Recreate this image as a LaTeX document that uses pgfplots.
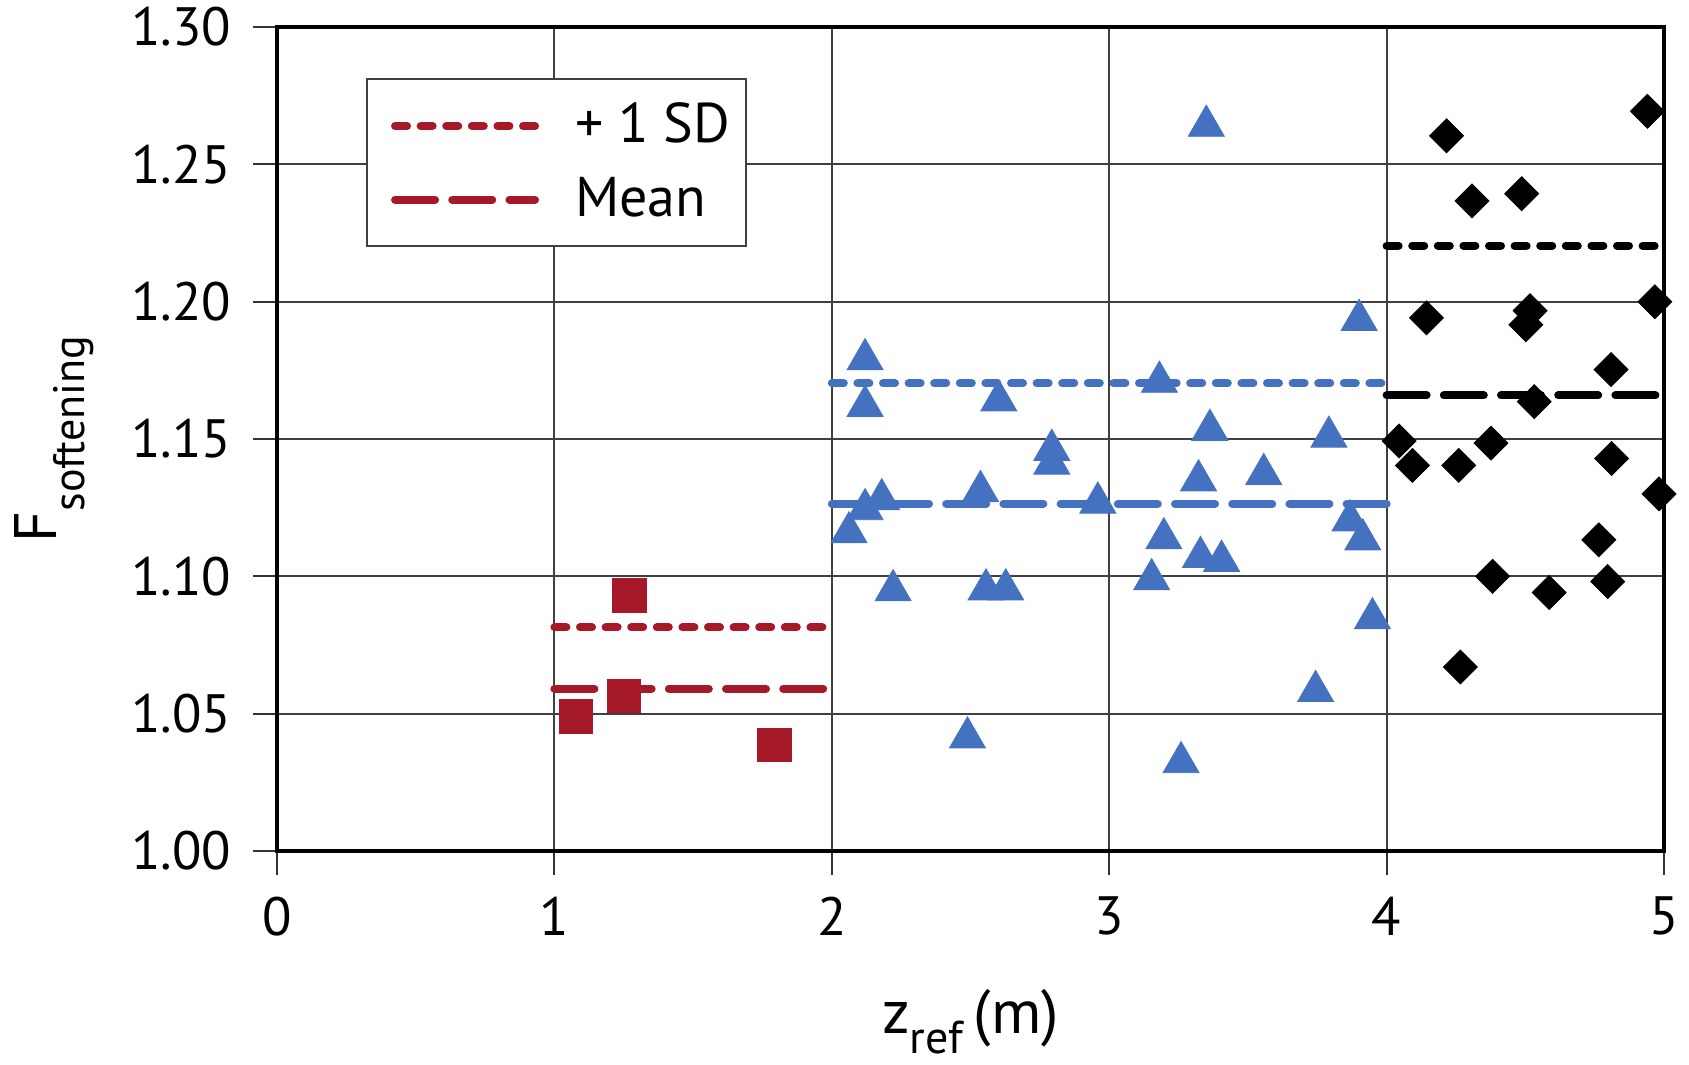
\documentclass[border=0pt]{standalone}
\usepackage{pgfplots}
\pgfplotsset{compat=1.18}
\usepackage{pgfplotstable}
\usepackage{fontspec}
\setmainfont{PT Sans}

\definecolor{sdred}{RGB}{166,25,40}
\definecolor{sdblue}{RGB}{68,114,192}

% z_ref (m) and F_softening for each group
\pgfplotstableread{
z     F
1.077 1.0490
1.251 1.0565
1.271 1.0930
1.793 1.0387
}\groupA

\pgfplotstableread{
z     F
2.062 1.1160
2.120 1.1790
2.120 1.1620
2.120 1.1244
2.180 1.1280
2.221 1.0949
2.489 1.0413
2.536 1.1310
2.556 1.0952
2.602 1.1640
2.627 1.0952
2.793 1.1460
2.793 1.1410
2.959 1.1268
3.153 1.0989
3.181 1.1708
3.197 1.1138
3.259 1.0323
3.322 1.1349
3.329 1.1070
3.350 1.2640
3.363 1.1533
3.405 1.1056
3.557 1.1372
3.744 1.0582
3.792 1.1508
3.868 1.1203
3.901 1.1933
3.914 1.1134
3.949 1.0847
}\groupB

\pgfplotstableread{
z     F
4.045 1.1493
4.093 1.1404
4.144 1.1941
4.216 1.2604
4.260 1.1404
4.266 1.0670
4.308 1.2367
4.376 1.1485
4.382 1.1000
4.487 1.2393
4.502 1.1916
4.517 1.1967
4.532 1.1636
4.586 1.0941
4.765 1.1133
4.797 1.0981
4.809 1.1753
4.811 1.1429
4.940 1.2693
4.967 1.2000
4.982 1.1300
}\groupC

\tikzset{
  sdline/.style={line width=2pt, line cap=round, dash pattern=on 3pt off 3.4pt},
  meanline/.style={line width=2pt, line cap=round, dash pattern=on 10pt off 4.3pt},
}

\begin{document}
\begin{tikzpicture}
\path[use as bounding box] (0,0) rectangle (422.25pt,266pt);
\begin{axis}[
  at={(69.25pt,53.25pt)}, anchor=south west,
  scale only axis, width=346.75pt, height=206pt,
  xmin=0, xmax=5, ymin=1.0, ymax=1.3,
  xtick={0,1,2,3,4,5},
  ytick={1.00,1.05,1.10,1.15,1.20,1.25,1.30},
  tick pos=left, tick align=outside, major tick length=6pt,
  tick style={black!80, line width=0.5pt},
  grid=major, major grid style={black!75, line width=0.5pt},
  axis line style={black, line width=0.9pt},
  clip=false,
  font=\fontsize{13.5}{16}\selectfont,
  /pgf/number format/assume math mode=true,
  y tick label style={/pgf/number format/fixed, /pgf/number format/fixed zerofill,
    /pgf/number format/precision=2, xshift=-2pt},
  x tick label style={yshift=-2pt},
  xlabel={\fontsize{15.5}{18}\selectfont z\raisebox{-5pt}{\fontsize{11.5}{13}\selectfont ref}\,(m)},
  ylabel={\fontsize{15}{18}\selectfont F\raisebox{-7pt}{\fontsize{11}{13}\selectfont softening}},
  xlabel style={at={(axis description cs:0.5,-0.2220)}, anchor=base, inner sep=0pt},
  ylabel style={at={(axis description cs:-0.1593,0.5)}, anchor=base},
  legend style={at={(0.0642,0.938)}, anchor=north west, draw=black!75,
    line width=0.5pt, inner xsep=2pt, inner ysep=4pt, row sep=3pt,
    font=\fontsize{14}{17}\selectfont},
  legend cell align=left,
  legend image code/.code={\path (0pt,0pt) (46pt,0pt);
    \draw[#1] (4pt,0pt) -- (39pt,0pt);},
]
% group means and +1 SD levels
\addplot[sdred, sdline] coordinates {(1,1.0814) (2,1.0814)};
\addlegendentry{+ 1 SD}
\addplot[sdred, meanline] coordinates {(1,1.0591) (2,1.0591)};
\addlegendentry{Mean}
\addplot[sdblue, sdline, forget plot] coordinates {(2,1.1703) (4,1.1703)};
\addplot[sdblue, meanline, forget plot] coordinates {(2,1.1264) (4,1.1264)};
\addplot[black, sdline, forget plot] coordinates {(4,1.2204) (5,1.2204)};
\addplot[black, meanline, forget plot] coordinates {(4,1.1659) (5,1.1659)};

% individual results
\addplot[only marks, forget plot, mark=square*, mark size=4.2pt,
  mark options={draw=sdred, fill=sdred, line width=0.2pt}] table[x=z, y=F] {\groupA};
\addplot[only marks, forget plot, mark=triangle*, mark size=5.2pt,
  mark options={draw=sdblue, fill=sdblue, line width=0.2pt}] table[x=z, y=F] {\groupB};
\addplot[only marks, forget plot, mark=square*, mark size=3.0pt,
  mark options={draw=black, fill=black, line width=0.2pt, rotate=45}] table[x=z, y=F] {\groupC};
\end{axis}
\end{tikzpicture}
\end{document}
